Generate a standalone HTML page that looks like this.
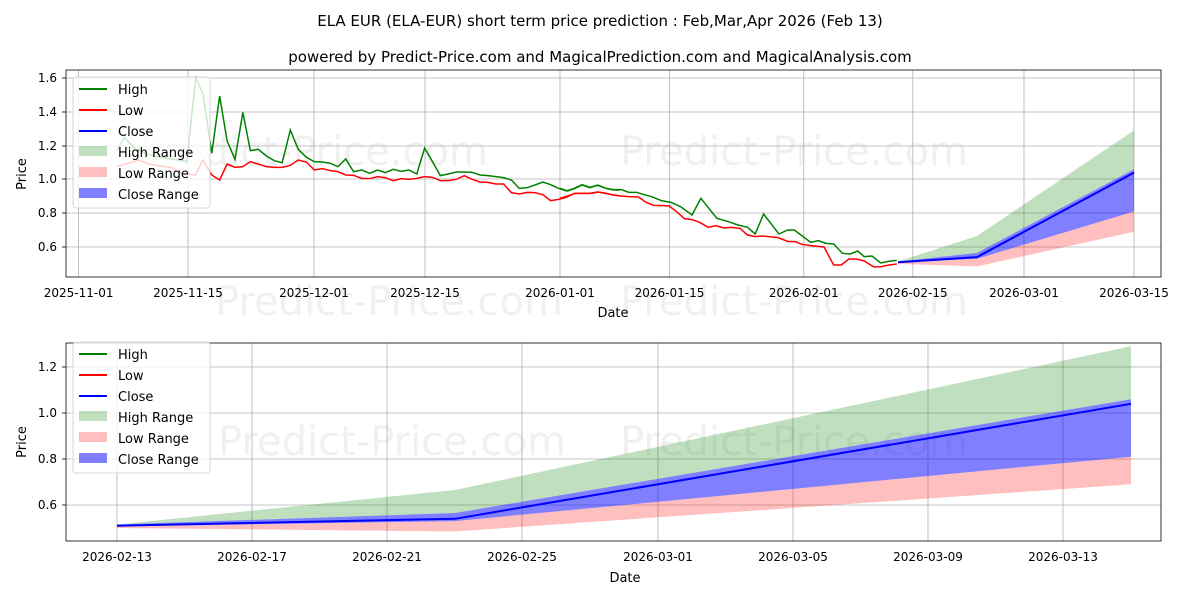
<!DOCTYPE html><html><head><meta charset="utf-8"><style>body{margin:0;background:#fff}svg{display:block;font-family:"DejaVu Sans","Liberation Sans",sans-serif}</style></head><body>
<svg width="1200" height="600" viewBox="0 0 1200 600" xmlns="http://www.w3.org/2000/svg">
<rect width="1200" height="600" fill="#fff"/>
<text x="600" y="26" font-size="15" text-anchor="middle">ELA EUR (ELA-EUR) short term price prediction : Feb,Mar,Apr 2026 (Feb 13)</text>
<text x="600" y="62" font-size="15" text-anchor="middle">powered by Predict-Price.com and MagicalPrediction.com and MagicalAnalysis.com</text>

<!-- TOP CHART -->
<g font-size="40" fill="#000" fill-opacity="0.06"><text x="140" y="165">Predict-Price.com</text><text x="620" y="165">Predict-Price.com</text><text x="215" y="315">Predict-Price.com</text><text x="620" y="315">Predict-Price.com</text></g>
<g stroke="#b0b0b0" stroke-width="0.8">
<line x1="78.6" y1="70" x2="78.6" y2="277"/><line x1="188" y1="70" x2="188" y2="277"/><line x1="314" y1="70" x2="314" y2="277"/><line x1="425" y1="70" x2="425" y2="277"/><line x1="560" y1="70" x2="560" y2="277"/><line x1="669.5" y1="70" x2="669.5" y2="277"/><line x1="803.8" y1="70" x2="803.8" y2="277"/><line x1="912.8" y1="70" x2="912.8" y2="277"/><line x1="1024" y1="70" x2="1024" y2="277"/><line x1="1134" y1="70" x2="1134" y2="277"/>
<line x1="66" y1="78" x2="1161" y2="78"/><line x1="66" y1="112" x2="1161" y2="112"/><line x1="66" y1="146" x2="1161" y2="146"/><line x1="66" y1="179" x2="1161" y2="179"/><line x1="66" y1="213" x2="1161" y2="213"/><line x1="66" y1="247" x2="1161" y2="247"/>
</g>
<polygon points="898,261.5 977,236 1134,130.4 1134,169.3 977,252.9 898,261.5" fill="#008000" fill-opacity="0.25"/>
<polygon points="898,262.5 977,258.8 1134,211.5 1134,231.8 977,266.4 898,263.9" fill="#ff0000" fill-opacity="0.25"/>
<polygon points="898,261.5 977,252.9 1134,169.3 1134,211.5 977,258.8 898,262.5" fill="#0000ff" fill-opacity="0.5"/>
<g fill="none" transform="translate(60,60) scale(0.35714,0.33333)">
<polyline stroke="#008000" style="stroke-width:1.5px" vector-effect="non-scaling-stroke" points="160,270 180,232 210,265 240,280 270,290 300,295 330,300 355,305 380,55 400,100 425,280 447,108 468,243 490,298 512,157 533,272 555,268 578,288 600,302 622,308 645,210 667,268 690,292 712,305 735,306 757,310 778,320 800,297 822,335 845,330 867,340 889,330 911,338 933,328 955,334 977,330 999,342 1021,264 1043,305 1065,347 1087,342 1110,336 1132,336 1154,337 1176,345 1198,347 1220,350 1242,353 1264,360 1286,385 1308,383 1330,375 1352,366 1374,374 1396,385 1418,393 1440,385 1462,374 1484,382 1506,375 1528,385 1550,390 1568,390"/>
<polyline stroke="#ff0000" style="stroke-width:1.5px" vector-effect="non-scaling-stroke" points="160,320 190,310 220,300 250,312 280,318 310,322 340,340 380,345 400,300 425,345 447,360 468,312 490,322 512,320 533,305 555,312 578,320 600,322 622,322 645,316 667,300 690,306 712,330 735,326 757,332 778,335 800,345 822,346 845,355 867,356 889,350 911,353 933,362 955,356 977,358 999,355 1021,350 1043,352 1065,362 1087,362 1110,358 1132,347 1154,358 1176,366 1198,367 1220,372 1242,372 1264,398 1286,402 1308,397 1330,398 1352,404 1374,422 1396,418 1418,412 1440,400 1462,400 1484,400 1506,396 1528,400 1550,405 1568,408"/>
</g>
<g fill="none" transform="translate(560,60) scale(0.3827,0.33333)">
<polyline stroke="#008000" style="stroke-width:1.5px" vector-effect="non-scaling-stroke" points="0,385 20,393 40,385 58,375 78,383 98,376 120,385 140,389 160,389 180,397 200,397 220,404 240,410 265,422 290,427 315,440 345,465 368,415 410,475 440,485 465,495 490,502 510,522 532,462 572,522 595,510 612,510 632,527 655,547 675,542 695,550 715,552 738,580 758,582 778,573 795,590 815,588 838,609 858,604 880,601"/>
<polyline stroke="#ff0000" style="stroke-width:1.5px" vector-effect="non-scaling-stroke" points="0,415 20,408 40,400 80,400 100,396 120,400 140,405 160,408 180,410 205,411 225,427 245,436 270,437 285,438 305,455 325,476 345,479 365,487 387,502 408,497 428,504 448,502 470,505 490,525 510,530 530,528 570,533 595,544 615,545 632,553 655,557 690,561 715,615 735,615 755,597 775,597 795,603 820,621 840,620 860,615 880,612"/>
</g>
<polyline points="898,262.2 977,257.1 1134,172.6" fill="none" stroke="#0000ff" stroke-width="2"/>
<rect x="66" y="70" width="1095" height="207" fill="none" stroke="#000" stroke-width="0.8"/>
<g font-size="12" text-anchor="end"><text x="57" y="82">1.6</text><text x="57" y="116">1.4</text><text x="57" y="150">1.2</text><text x="57" y="183">1.0</text><text x="57" y="217">0.8</text><text x="57" y="251">0.6</text></g>
<g stroke="#000" stroke-width="0.8"><line x1="62" y1="78" x2="66" y2="78"/><line x1="62" y1="112" x2="66" y2="112"/><line x1="62" y1="146" x2="66" y2="146"/><line x1="62" y1="179" x2="66" y2="179"/><line x1="62" y1="213" x2="66" y2="213"/><line x1="62" y1="247" x2="66" y2="247"/></g>
<g font-size="12" text-anchor="middle"><text x="78.6" y="297">2025-11-01</text><text x="188" y="297">2025-11-15</text><text x="314" y="297">2025-12-01</text><text x="425" y="297">2025-12-15</text><text x="560" y="297">2026-01-01</text><text x="669.5" y="297">2026-01-15</text><text x="803.8" y="297">2026-02-01</text><text x="912.8" y="297">2026-02-15</text><text x="1024" y="297">2026-03-01</text><text x="1134" y="297">2026-03-15</text></g>
<text x="613" y="317" font-size="13" text-anchor="middle">Date</text>
<text x="26" y="174" font-size="13" text-anchor="middle" transform="rotate(-90 26 174)">Price</text>
<g>
<rect x="73" y="77" width="137" height="131" rx="3" fill="#fff" fill-opacity="0.8" stroke="#ccc" stroke-width="0.8"/>
<line x1="79" y1="89" x2="107" y2="89" stroke="#008000" stroke-width="2"/><line x1="79" y1="110" x2="107" y2="110" stroke="#ff0000" stroke-width="2"/><line x1="79" y1="131" x2="107" y2="131" stroke="#0000ff" stroke-width="2"/>
<rect x="79" y="146" width="28" height="10" fill="#008000" fill-opacity="0.25"/><rect x="79" y="167" width="28" height="10" fill="#ff0000" fill-opacity="0.25"/><rect x="79" y="188" width="28" height="10" fill="#0000ff" fill-opacity="0.5"/>
<g font-size="13"><text x="118" y="94">High</text><text x="118" y="115">Low</text><text x="118" y="136">Close</text><text x="118" y="157">High Range</text><text x="118" y="178">Low Range</text><text x="118" y="199">Close Range</text></g>
</g>

<!-- BOTTOM CHART -->
<g font-size="40" fill="#000" fill-opacity="0.06"><text x="218" y="455">Predict-Price.com</text><text x="620" y="455">Predict-Price.com</text></g>
<g stroke="#b0b0b0" stroke-width="0.8">
<line x1="117" y1="343" x2="117" y2="541"/><line x1="252" y1="343" x2="252" y2="541"/><line x1="387" y1="343" x2="387" y2="541"/><line x1="522" y1="343" x2="522" y2="541"/><line x1="658" y1="343" x2="658" y2="541"/><line x1="793" y1="343" x2="793" y2="541"/><line x1="928" y1="343" x2="928" y2="541"/><line x1="1063" y1="343" x2="1063" y2="541"/>
<line x1="66" y1="367" x2="1161" y2="367"/><line x1="66" y1="413" x2="1161" y2="413"/><line x1="66" y1="459" x2="1161" y2="459"/><line x1="66" y1="505" x2="1161" y2="505"/>
</g>
<polygon points="117,524.5 455,490 1131,346.3 1131,399.2 455,513 117,524.5" fill="#008000" fill-opacity="0.25"/>
<polygon points="117,526.5 455,521.1 1131,456.7 1131,484.3 455,531.5 117,528" fill="#ff0000" fill-opacity="0.25"/>
<polygon points="117,524.5 455,513 1131,399.2 1131,456.7 455,521.1 117,526.5" fill="#0000ff" fill-opacity="0.5"/>
<polyline points="117,525.7 455,518.8 1131,403.8" fill="none" stroke="#0000ff" stroke-width="2"/>
<rect x="66" y="343" width="1095" height="198" fill="none" stroke="#000" stroke-width="0.8"/>
<g font-size="12" text-anchor="end"><text x="57" y="371">1.2</text><text x="57" y="417">1.0</text><text x="57" y="463">0.8</text><text x="57" y="509">0.6</text></g>
<g stroke="#000" stroke-width="0.8"><line x1="62" y1="367" x2="66" y2="367"/><line x1="62" y1="413" x2="66" y2="413"/><line x1="62" y1="459" x2="66" y2="459"/><line x1="62" y1="505" x2="66" y2="505"/></g>
<g font-size="12" text-anchor="middle"><text x="117" y="561">2026-02-13</text><text x="252" y="561">2026-02-17</text><text x="387" y="561">2026-02-21</text><text x="522" y="561">2026-02-25</text><text x="658" y="561">2026-03-01</text><text x="793" y="561">2026-03-05</text><text x="928" y="561">2026-03-09</text><text x="1063" y="561">2026-03-13</text></g>
<text x="625" y="582" font-size="13" text-anchor="middle">Date</text>
<text x="26" y="442" font-size="13" text-anchor="middle" transform="rotate(-90 26 442)">Price</text>
<g>
<rect x="73" y="342" width="137" height="131" rx="3" fill="#fff" fill-opacity="0.8" stroke="#ccc" stroke-width="0.8"/>
<line x1="79" y1="354" x2="107" y2="354" stroke="#008000" stroke-width="2"/><line x1="79" y1="375" x2="107" y2="375" stroke="#ff0000" stroke-width="2"/><line x1="79" y1="396" x2="107" y2="396" stroke="#0000ff" stroke-width="2"/>
<rect x="79" y="411" width="28" height="10" fill="#008000" fill-opacity="0.25"/><rect x="79" y="432" width="28" height="10" fill="#ff0000" fill-opacity="0.25"/><rect x="79" y="453" width="28" height="10" fill="#0000ff" fill-opacity="0.5"/>
<g font-size="13"><text x="118" y="359">High</text><text x="118" y="380">Low</text><text x="118" y="401">Close</text><text x="118" y="422">High Range</text><text x="118" y="443">Low Range</text><text x="118" y="464">Close Range</text></g>
</g>
</svg>
</body></html>
